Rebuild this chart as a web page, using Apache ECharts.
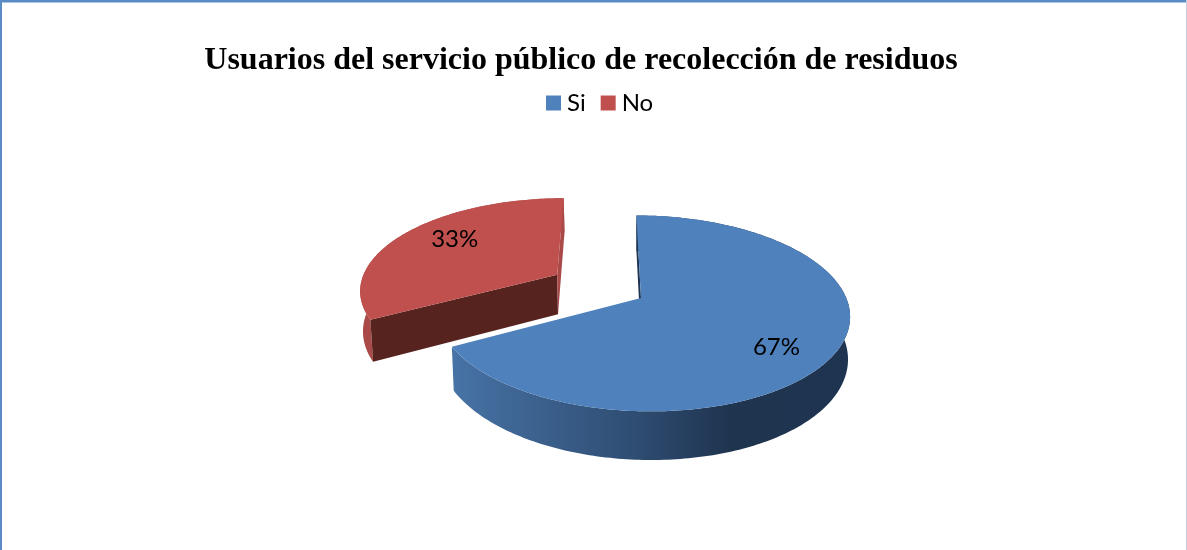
<!DOCTYPE html>
<html><head><meta charset="utf-8">
<style>html,body{margin:0;padding:0;background:#fff}#c{width:1187px;height:550px}</style>
<script src="https://cdn.jsdelivr.net/npm/echarts@6/dist/echarts.min.js"></script>
</head><body><div id="c"></div>
<script>
const chartTitle = 'Usuarios del servicio público de recolección de residuos';
const categories = ['Si', 'No'];
const values = [67, 33];
const colors = ['#4f81bd', '#c0504d'];

// Projection of the tilted 3D pie
const CX = 641, CY = 298, R = 204, K = 0.157, KX = 0.012, C = 0.468, TILT = 0.016, DEPTH = 41, NARROW = 0.99;
const START = -1.5, EXPLODE = [0, 100];
const total = values.reduce((a, b) => a + b, 0);

function project(gx, gy, low) {
  const den = 1 - K * gy / R - KX * gx / R;
  const x = gx / den, y = C * gy / den + TILT * gx / den;
  return low ? [CX + x * NARROW, CY + y + DEPTH / den] : [CX + x, CY + y];
}
function makeFace(a, off, r) {
  const t = a * Math.PI / 180;
  return [off[0] + r * Math.sin(t), off[1] - r * Math.cos(t)];
}
function rim(a0, a1, off, low) {
  const pts = [];
  for (let a = a0; a <= a1 + 1e-6; a += 1) {
    const g = makeFace(Math.min(a, a1), off, R);
    pts.push(project(g[0], g[1], low));
  }
  const g = makeFace(a1, off, R);
  pts.push(project(g[0], g[1], low));
  return pts;
}
function poly(points, fill) {
  return { type: 'polygon', shape: { points }, style: { fill, stroke: null }, silent: true };
}

function renderSlice(idx, walls) {
  return function (params, api) {
    const v = api.value(0);
    let before = 0;
    for (let i = 0; i < idx; i++) before += values[i];
    const a0 = START + before / total * 360;
    const a1 = a0 + v / total * 360;
    const mid = (a0 + a1) / 2 * Math.PI / 180;
    const d = walls.explode;
    const off = [d * Math.sin(mid), -d * Math.cos(mid)];
    const apexT = project(off[0], off[1], false), apexB = project(off[0], off[1], true);
    const topRim = rim(a0, a1, off, false), lowRim = rim(a0, a1, off, true);
    const children = [];
    children.push(poly(topRim.concat(lowRim.slice().reverse()), walls.side));
    const cut = (a, fill) => {
      const g = makeFace(a, off, R);
      children.push(poly([apexT, project(g[0], g[1], false), project(g[0], g[1], true), apexB], fill));
    };
    if (walls.cutStart) cut(a0, walls.cutStart);
    if (walls.cutEnd) cut(a1, walls.cutEnd);
    children.push(poly([apexT].concat(topRim), colors[idx]));
    const lg = makeFace(a0 + (a1 - a0) * walls.labelAt, off, R * walls.labelR);
    const lp = project(lg[0], lg[1], false);
    children.push({
      type: 'text', silent: true,
      style: { x: lp[0], y: lp[1], text: v + '%', fill: '#000',
        font: '24px Lato', align: 'center', verticalAlign: 'middle' }
    });
    return { type: 'group', children };
  };
}

const blueWall = new echarts.graphic.LinearGradient(0, 0, 1, 0, [
  { offset: 0, color: '#4773a6' }, { offset: 0.47, color: '#2e4c71' },
  { offset: 0.7, color: '#1f344f' }, { offset: 1, color: '#1e3450' }
]);
const sliceStyle = [
  { side: blueWall, cutStart: '#1e3450', cutEnd: null, explode: 0, labelAt: 0.53, labelR: 0.76 },
  { side: '#a94a48', cutStart: '#57231f', cutEnd: '#a94a48', explode: EXPLODE[1], labelAt: 0.55, labelR: 0.72 }
];

const series = categories.map((name, i) => ({
  type: 'custom', name, coordinateSystem: 'none', animation: false,
  itemStyle: { color: colors[i] }, silent: true, z: i === 1 ? 1 : 2,
  renderItem: renderSlice(i, sliceStyle[i]),
  data: [[values[i]]]
}));

const chart = echarts.init(document.getElementById('c'), null, { renderer: 'canvas' });
chart.setOption({
  animation: false,
  backgroundColor: '#fff',
  title: { text: chartTitle, left: 576, top: 40, textAlign: 'center',
    textStyle: { fontFamily: 'Liberation Serif', fontWeight: 'bold', fontSize: 32, color: '#000' } },
  legend: { data: categories, icon: 'rect', top: 86, left: 541, itemWidth: 15, itemHeight: 15, itemGap: 15,
    selectedMode: false, textStyle: { fontFamily: 'Lato', fontSize: 24, color: '#000', padding: [0, 0, 0, 1] } },
  tooltip: { show: false },
  series,
  graphic: [
    { type: 'rect', shape: { x: 0, y: 0, width: 1187, height: 2.5 }, style: { fill: '#5b8bc7' }, silent: true },
    { type: 'rect', shape: { x: 0, y: 0, width: 2, height: 550 }, style: { fill: '#5b8bc7' }, silent: true },
    { type: 'rect', shape: { x: 1186, y: 0, width: 1, height: 550 }, style: { fill: '#c5cfe0' }, silent: true }
  ]
});
</script></body></html>
